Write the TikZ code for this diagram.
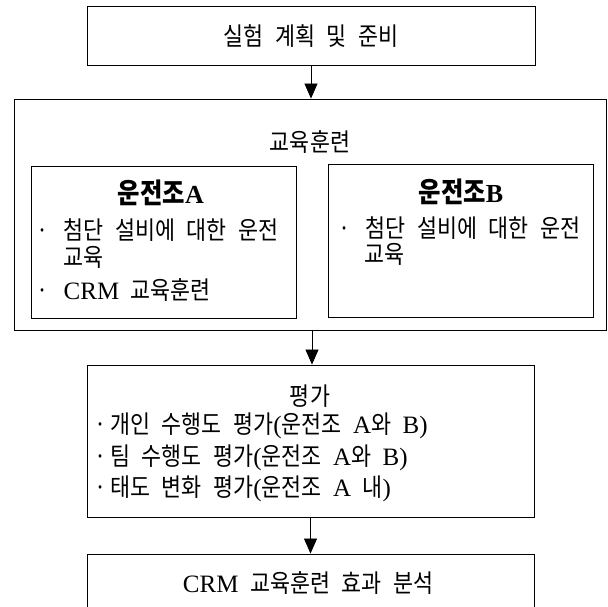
\documentclass[tikz,border=0pt]{standalone}
\usepackage{fontspec}
\setmainfont{Liberation Serif}
\newfontfamily\kr[FakeStretch=0.87]{Noto Sans CJK KR}
\usetikzlibrary{arrows.meta}
\newcommand\Lt[1]{{\rmfamily #1}}
\newcommand\krtxt{\fontsize{25}{29}\selectfont\kr\spaceskip=11.5pt\relax}
\newcommand\krttl{\fontsize{28}{32}\selectfont\bfseries\kr}
\newcommand\bul{\makebox[20pt][c]{·}}
\tikzset{
  box/.style={draw=black, line width=0.9pt, inner sep=0pt},
  arr/.style={draw=black, line width=0.8pt, -{Triangle[length=15pt,width=13pt]}},
  txt/.style={inner sep=0pt, font=\krtxt},
  ttl/.style={inner sep=0pt, font=\krttl},
}
\begin{document}
\begin{tikzpicture}[x=1pt,y=-1pt]
\clip (0,0) rectangle (608,607);
\fill[white] (0,0) rectangle (608,607);
% boxes
\node[box, minimum width=448pt, minimum height=59pt] (top) at (311,35.5) {};
\node[box, minimum width=592.5pt, minimum height=231pt] (outer) at (310.25,214.5) {};
\node[box, minimum width=265pt, minimum height=152pt] (ga) at (163.5,242) {};
\node[box, minimum width=265pt, minimum height=153pt] (gb) at (460.5,240.5) {};
\node[box, minimum width=447pt, minimum height=152pt] (eval) at (310.5,441) {};
\node[box, minimum width=447pt, minimum height=90pt] (final) at (310.5,599) {};
% texts
\node[txt, anchor=base] (t0) at (311,46) {실험 계획 및 준비};
\node[txt, anchor=base] (tedu) at (310,152) {교육훈련};
\node[ttl, anchor=base] (ta) at (161,203.5) {운전조{\fontsize{26}{30}\selectfont\rmfamily\bfseries A}};
\node[txt, anchor=base west] (ta1) at (32,239) {\bul{} 첨단 설비에 대한 운전};
\node[txt, anchor=base west] (ta2) at (63,266) {교육};
\node[txt, anchor=base west] (ta3) at (32,299) {\bul{} \Lt{CRM} 교육훈련};
\node[ttl, anchor=base] (tb) at (461,202.5) {운전조{\fontsize{26}{30}\selectfont\rmfamily\bfseries B}};
\node[txt, anchor=base west] (tb1) at (334,237) {\bul{} 첨단 설비에 대한 운전};
\node[txt, anchor=base west] (tb2) at (364,263) {교육};
\node[txt, anchor=base] (tev) at (310,405) {평가};
\node[txt, anchor=base west] (te1) at (90,433) {\bul 개인 수행도 평가\Lt{(}운전조 \Lt{A}와 \Lt{B)}};
\node[txt, anchor=base west] (te2) at (90,465) {\bul 팀 수행도 평가\Lt{(}운전조 \Lt{A}와 \Lt{B)}};
\node[txt, anchor=base west] (te3) at (90,496.5) {\bul 태도 변화 평가\Lt{(}운전조 \Lt{A} 내\Lt{)}};
\node[txt, anchor=base] (tf) at (308,592) {\Lt{CRM} 교육훈련 효과 분석};
% arrows
\draw[arr] (top.south) -- (top.south |- outer.north);
\draw[arr] (312,330) coordinate (o1) -- (o1 |- eval.north);
\draw[arr] (eval.south) -- (eval.south |- final.north);
\end{tikzpicture}
\end{document}
